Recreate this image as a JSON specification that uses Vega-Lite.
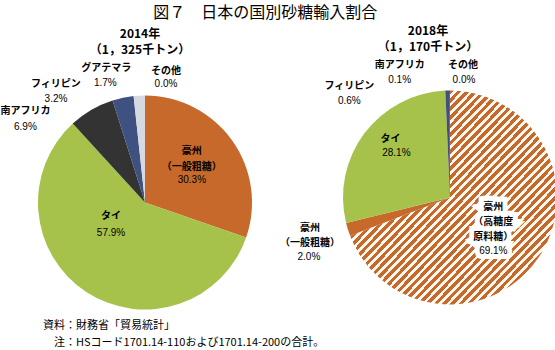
{
  "$schema": "https://vega.github.io/schema/vega-lite/v6.json",
  "padding": {"left": 0, "top": 5, "right": 0, "bottom": 0},
  "spacing": 3,
  "title": {"text": "図７　日本の国別砂糖輸入割合", "fontSize": 16, "fontWeight": "normal", "font": "Noto Sans CJK JP", "anchor": "middle", "dx": -14, "offset": 4, "color": "#000000"},
  "config": {"view": {"stroke": null}, "font": "Noto Sans CJK JP"},
  "datasets": {
    "p2014": [
      {"cat": "豪州（一般粗糖）", "name": "豪州\n（一般粗糖）", "pct": "30.3%", "v": 30.3, "o": 1},
      {"cat": "タイ", "name": "タイ", "pct": "57.9%", "v": 57.9, "o": 2},
      {"cat": "南アフリカ", "name": "南アフリカ", "pct": "6.9%", "v": 6.9, "o": 3},
      {"cat": "フィリピン", "name": "フィリピン", "pct": "3.2%", "v": 3.2, "o": 4},
      {"cat": "グアテマラ", "name": "グアテマラ", "pct": "1.7%", "v": 1.7, "o": 5},
      {"cat": "その他", "name": "その他", "pct": "0.0%", "v": 0, "o": 6}
    ],
    "p2018": [
      {"cat": "豪州（高糖度原料糖）", "name": "豪州\n（高糖度\n原料糖）", "pct": "69.1%", "v": 69.1, "o": 1},
      {"cat": "豪州（一般粗糖）", "name": "豪州\n（一般粗糖）", "pct": "2.0%", "v": 2.0, "o": 2},
      {"cat": "タイ", "name": "タイ", "pct": "28.1%", "v": 28.1, "o": 3},
      {"cat": "フィリピン", "name": "フィリピン", "pct": "0.6%", "v": 0.6, "o": 4},
      {"cat": "南アフリカ", "name": "南アフリカ", "pct": "0.1%", "v": 0.1, "o": 5},
      {"cat": "その他", "name": "その他", "pct": "0.0%", "v": 0, "o": 6}
    ],
    "notes": [
      {"k": 1, "note": "資料：財務省「貿易統計」"},
      {"k": 2, "note": "注：HSコード1701.14-110および1701.14-200の合計。"}
    ]
  },
  "vconcat": [
    {
      "bounds": "flush",
      "spacing": 55,
      "hconcat": [
        {
          "width": 284,
          "height": 223,
          "title": {"text": ["2014年", "（1，325千トン）"], "fontSize": 12, "fontWeight": "bold", "lineHeight": 15.5, "offset": 7, "dx": -5, "dy": 1, "anchor": "middle", "color": "#000000"},
          "data": {"name": "p2014"},
          "encoding": {
            "theta": {"field": "v", "type": "quantitative", "stack": true},
            "order": {"field": "o", "type": "quantitative"}
          },
          "layer": [
            {
              "mark": {"type": "arc", "outerRadius": 107},
              "encoding": {
                "color": {"field": "cat", "type": "nominal", "legend": null,
                  "scale": {"domain": ["豪州（一般粗糖）", "タイ", "南アフリカ", "フィリピン", "グアテマラ", "その他"],
                            "range": ["#c6692b", "#a6c24b", "#333333", "#3f5180", "#d6dae0", "#e8e8e8"]}}
              }
            },
            {
              "mark": {"type": "text", "font": "Noto Sans CJK JP", "fontWeight": "bold", "fontSize": 10, "lineBreak": "\n", "lineHeight": 16, "baseline": "middle", "align": "center", "color": "#000000",
                "radius": {"expr": "[60,40,107,107,107,107][datum.o-1]"},
                "dx": {"expr": "[-2,-12,-66,-67,-33,21][datum.o-1]"},
                "dy": {"expr": "[-17,-20,1,-14,-28,-25][datum.o-1]"}},
              "encoding": {"text": {"field": "name"}, "detail": {"field": "cat"}}
            },
            {
              "mark": {"type": "text", "font": "Liberation Sans", "fontSize": 10, "baseline": "middle", "align": "center", "color": "#000000",
                "radius": {"expr": "[60,40,107,107,107,107][datum.o-1]"},
                "dx": {"expr": "[-2,-12,-66,-67,-34,21][datum.o-1]"},
                "dy": {"expr": "[12,-3,17,1,-13,-12][datum.o-1]"}},
              "encoding": {"text": {"field": "pct"}, "detail": {"field": "cat"}}
            }
          ]
        },
        {
          "width": 216,
          "height": 213,
          "title": {"text": ["2018年", "（1，170千トン）"], "fontSize": 12, "fontWeight": "bold", "lineHeight": 15.5, "offset": 7, "dx": -22, "dy": 1, "anchor": "middle", "color": "#000000"},
          "data": {"name": "p2018"},
          "encoding": {
            "theta": {"field": "v", "type": "quantitative", "stack": true},
            "order": {"field": "o", "type": "quantitative"}
          },
          "layer": [
            {
              "mark": {"type": "arc", "outerRadius": 107},
              "encoding": {
                "color": {"field": "cat", "type": "nominal", "legend": null,
                  "scale": {"domain": ["豪州（高糖度原料糖）", "豪州（一般粗糖）", "タイ", "フィリピン", "南アフリカ", "その他"],
                            "range": ["#e3a46f", "#c6692b", "#a6c24b", "#3f5180", "#333333", "#e8e8e8"]},
                  "condition": {"test": "datum.o === 1", "value": {"gradient": "linear", "x1": 0, "y1": 0, "x2": 1, "y2": 1, "stops": [
{"offset":0,"color":"#c6692b"},{"offset":0.011,"color":"#c6692b"},{"offset":0.011,"color":"#fff8f0"},{"offset":0.02,"color":"#fff8f0"},
{"offset":0.02,"color":"#c6692b"},{"offset":0.031,"color":"#c6692b"},{"offset":0.031,"color":"#fff8f0"},{"offset":0.04,"color":"#fff8f0"},
{"offset":0.04,"color":"#c6692b"},{"offset":0.051,"color":"#c6692b"},{"offset":0.051,"color":"#fff8f0"},{"offset":0.06,"color":"#fff8f0"},
{"offset":0.06,"color":"#c6692b"},{"offset":0.071,"color":"#c6692b"},{"offset":0.071,"color":"#fff8f0"},{"offset":0.08,"color":"#fff8f0"},
{"offset":0.08,"color":"#c6692b"},{"offset":0.091,"color":"#c6692b"},{"offset":0.091,"color":"#fff8f0"},{"offset":0.1,"color":"#fff8f0"},
{"offset":0.1,"color":"#c6692b"},{"offset":0.111,"color":"#c6692b"},{"offset":0.111,"color":"#fff8f0"},{"offset":0.12,"color":"#fff8f0"},
{"offset":0.12,"color":"#c6692b"},{"offset":0.131,"color":"#c6692b"},{"offset":0.131,"color":"#fff8f0"},{"offset":0.14,"color":"#fff8f0"},
{"offset":0.14,"color":"#c6692b"},{"offset":0.151,"color":"#c6692b"},{"offset":0.151,"color":"#fff8f0"},{"offset":0.16,"color":"#fff8f0"},
{"offset":0.16,"color":"#c6692b"},{"offset":0.171,"color":"#c6692b"},{"offset":0.171,"color":"#fff8f0"},{"offset":0.18,"color":"#fff8f0"},
{"offset":0.18,"color":"#c6692b"},{"offset":0.191,"color":"#c6692b"},{"offset":0.191,"color":"#fff8f0"},{"offset":0.2,"color":"#fff8f0"},
{"offset":0.2,"color":"#c6692b"},{"offset":0.211,"color":"#c6692b"},{"offset":0.211,"color":"#fff8f0"},{"offset":0.22,"color":"#fff8f0"},
{"offset":0.22,"color":"#c6692b"},{"offset":0.231,"color":"#c6692b"},{"offset":0.231,"color":"#fff8f0"},{"offset":0.24,"color":"#fff8f0"},
{"offset":0.24,"color":"#c6692b"},{"offset":0.251,"color":"#c6692b"},{"offset":0.251,"color":"#fff8f0"},{"offset":0.26,"color":"#fff8f0"},
{"offset":0.26,"color":"#c6692b"},{"offset":0.271,"color":"#c6692b"},{"offset":0.271,"color":"#fff8f0"},{"offset":0.28,"color":"#fff8f0"},
{"offset":0.28,"color":"#c6692b"},{"offset":0.291,"color":"#c6692b"},{"offset":0.291,"color":"#fff8f0"},{"offset":0.3,"color":"#fff8f0"},
{"offset":0.3,"color":"#c6692b"},{"offset":0.311,"color":"#c6692b"},{"offset":0.311,"color":"#fff8f0"},{"offset":0.32,"color":"#fff8f0"},
{"offset":0.32,"color":"#c6692b"},{"offset":0.331,"color":"#c6692b"},{"offset":0.331,"color":"#fff8f0"},{"offset":0.34,"color":"#fff8f0"},
{"offset":0.34,"color":"#c6692b"},{"offset":0.351,"color":"#c6692b"},{"offset":0.351,"color":"#fff8f0"},{"offset":0.36,"color":"#fff8f0"},
{"offset":0.36,"color":"#c6692b"},{"offset":0.371,"color":"#c6692b"},{"offset":0.371,"color":"#fff8f0"},{"offset":0.38,"color":"#fff8f0"},
{"offset":0.38,"color":"#c6692b"},{"offset":0.391,"color":"#c6692b"},{"offset":0.391,"color":"#fff8f0"},{"offset":0.4,"color":"#fff8f0"},
{"offset":0.4,"color":"#c6692b"},{"offset":0.411,"color":"#c6692b"},{"offset":0.411,"color":"#fff8f0"},{"offset":0.42,"color":"#fff8f0"},
{"offset":0.42,"color":"#c6692b"},{"offset":0.431,"color":"#c6692b"},{"offset":0.431,"color":"#fff8f0"},{"offset":0.44,"color":"#fff8f0"},
{"offset":0.44,"color":"#c6692b"},{"offset":0.451,"color":"#c6692b"},{"offset":0.451,"color":"#fff8f0"},{"offset":0.46,"color":"#fff8f0"},
{"offset":0.46,"color":"#c6692b"},{"offset":0.471,"color":"#c6692b"},{"offset":0.471,"color":"#fff8f0"},{"offset":0.48,"color":"#fff8f0"},
{"offset":0.48,"color":"#c6692b"},{"offset":0.491,"color":"#c6692b"},{"offset":0.491,"color":"#fff8f0"},{"offset":0.5,"color":"#fff8f0"},
{"offset":0.5,"color":"#c6692b"},{"offset":0.511,"color":"#c6692b"},{"offset":0.511,"color":"#fff8f0"},{"offset":0.52,"color":"#fff8f0"},
{"offset":0.52,"color":"#c6692b"},{"offset":0.531,"color":"#c6692b"},{"offset":0.531,"color":"#fff8f0"},{"offset":0.54,"color":"#fff8f0"},
{"offset":0.54,"color":"#c6692b"},{"offset":0.551,"color":"#c6692b"},{"offset":0.551,"color":"#fff8f0"},{"offset":0.56,"color":"#fff8f0"},
{"offset":0.56,"color":"#c6692b"},{"offset":0.571,"color":"#c6692b"},{"offset":0.571,"color":"#fff8f0"},{"offset":0.58,"color":"#fff8f0"},
{"offset":0.58,"color":"#c6692b"},{"offset":0.591,"color":"#c6692b"},{"offset":0.591,"color":"#fff8f0"},{"offset":0.6,"color":"#fff8f0"},
{"offset":0.6,"color":"#c6692b"},{"offset":0.611,"color":"#c6692b"},{"offset":0.611,"color":"#fff8f0"},{"offset":0.62,"color":"#fff8f0"},
{"offset":0.62,"color":"#c6692b"},{"offset":0.631,"color":"#c6692b"},{"offset":0.631,"color":"#fff8f0"},{"offset":0.64,"color":"#fff8f0"},
{"offset":0.64,"color":"#c6692b"},{"offset":0.651,"color":"#c6692b"},{"offset":0.651,"color":"#fff8f0"},{"offset":0.66,"color":"#fff8f0"},
{"offset":0.66,"color":"#c6692b"},{"offset":0.671,"color":"#c6692b"},{"offset":0.671,"color":"#fff8f0"},{"offset":0.68,"color":"#fff8f0"},
{"offset":0.68,"color":"#c6692b"},{"offset":0.691,"color":"#c6692b"},{"offset":0.691,"color":"#fff8f0"},{"offset":0.7,"color":"#fff8f0"},
{"offset":0.7,"color":"#c6692b"},{"offset":0.711,"color":"#c6692b"},{"offset":0.711,"color":"#fff8f0"},{"offset":0.72,"color":"#fff8f0"},
{"offset":0.72,"color":"#c6692b"},{"offset":0.731,"color":"#c6692b"},{"offset":0.731,"color":"#fff8f0"},{"offset":0.74,"color":"#fff8f0"},
{"offset":0.74,"color":"#c6692b"},{"offset":0.751,"color":"#c6692b"},{"offset":0.751,"color":"#fff8f0"},{"offset":0.76,"color":"#fff8f0"},
{"offset":0.76,"color":"#c6692b"},{"offset":0.771,"color":"#c6692b"},{"offset":0.771,"color":"#fff8f0"},{"offset":0.78,"color":"#fff8f0"},
{"offset":0.78,"color":"#c6692b"},{"offset":0.791,"color":"#c6692b"},{"offset":0.791,"color":"#fff8f0"},{"offset":0.8,"color":"#fff8f0"},
{"offset":0.8,"color":"#c6692b"},{"offset":0.811,"color":"#c6692b"},{"offset":0.811,"color":"#fff8f0"},{"offset":0.82,"color":"#fff8f0"},
{"offset":0.82,"color":"#c6692b"},{"offset":0.831,"color":"#c6692b"},{"offset":0.831,"color":"#fff8f0"},{"offset":0.84,"color":"#fff8f0"},
{"offset":0.84,"color":"#c6692b"},{"offset":0.851,"color":"#c6692b"},{"offset":0.851,"color":"#fff8f0"},{"offset":0.86,"color":"#fff8f0"},
{"offset":0.86,"color":"#c6692b"},{"offset":0.871,"color":"#c6692b"},{"offset":0.871,"color":"#fff8f0"},{"offset":0.88,"color":"#fff8f0"},
{"offset":0.88,"color":"#c6692b"},{"offset":0.891,"color":"#c6692b"},{"offset":0.891,"color":"#fff8f0"},{"offset":0.9,"color":"#fff8f0"},
{"offset":0.9,"color":"#c6692b"},{"offset":0.911,"color":"#c6692b"},{"offset":0.911,"color":"#fff8f0"},{"offset":0.92,"color":"#fff8f0"},
{"offset":0.92,"color":"#c6692b"},{"offset":0.931,"color":"#c6692b"},{"offset":0.931,"color":"#fff8f0"},{"offset":0.94,"color":"#fff8f0"},
{"offset":0.94,"color":"#c6692b"},{"offset":0.951,"color":"#c6692b"},{"offset":0.951,"color":"#fff8f0"},{"offset":0.96,"color":"#fff8f0"},
{"offset":0.96,"color":"#c6692b"},{"offset":0.971,"color":"#c6692b"},{"offset":0.971,"color":"#fff8f0"},{"offset":0.98,"color":"#fff8f0"},
{"offset":0.98,"color":"#c6692b"},{"offset":0.991,"color":"#c6692b"},{"offset":0.991,"color":"#fff8f0"},{"offset":1,"color":"#fff8f0"}
                  ]}}
                }
              }
            },
            {
              "mark": {"type": "text", "font": "Noto Sans CJK JP", "fontWeight": "bold", "fontSize": 10, "lineBreak": "\n", "lineHeight": 15, "baseline": "middle", "align": "center", "color": "#ffffff", "stroke": "#ffffff", "strokeWidth": 10, "strokeJoin": "miter",
                "radius": 55, "dx": -2, "dy": -22},
              "encoding": {"text": {"condition": {"test": "datum.o === 1", "field": "name"}, "value": ""}, "detail": {"field": "cat"}}
            },
            {
              "mark": {"type": "text", "font": "Liberation Sans", "fontSize": 10, "baseline": "middle", "align": "center", "color": "#ffffff", "stroke": "#ffffff", "strokeWidth": 10, "strokeJoin": "miter",
                "radius": 55, "dx": -2, "dy": 22},
              "encoding": {"text": {"condition": {"test": "datum.o === 1", "field": "pct"}, "value": ""}, "detail": {"field": "cat"}}
            },
            {
              "mark": {"type": "text", "font": "Noto Sans CJK JP", "fontWeight": "bold", "fontSize": 10, "lineBreak": "\n", "lineHeight": 15, "baseline": "middle", "align": "center", "color": "#000000",
                "radius": {"expr": "[55,107,72,107,107,107][datum.o-1]"},
                "dx": {"expr": "[-2,-38,-2,-98,-50,13][datum.o-1]"},
                "dy": {"expr": "[-22,-1.5,-15,-4.5,-26,-26][datum.o-1]"}},
              "encoding": {"text": {"field": "name"}, "detail": {"field": "cat"}}
            },
            {
              "mark": {"type": "text", "font": "Liberation Sans", "fontSize": 10, "baseline": "middle", "align": "center", "color": "#000000",
                "radius": {"expr": "[55,107,72,107,107,107][datum.o-1]"},
                "dx": {"expr": "[-2,-39,4,-98,-50,14][datum.o-1]"},
                "dy": {"expr": "[22,27.5,-1,10.5,-11,-11][datum.o-1]"}},
              "encoding": {"text": {"field": "pct"}, "detail": {"field": "cat"}}
            }
          ]
        }
      ]
    },
    {
      "width": 80,
      "height": 34,
      "data": {"name": "notes"},
      "mark": {"type": "text", "align": "left", "baseline": "middle", "fontSize": 11, "font": "Noto Sans CJK JP", "color": "#000000",
        "dx": {"expr": "datum.k === 2 ? 11 : 0"}},
      "encoding": {
        "y": {"field": "k", "type": "ordinal", "axis": null},
        "text": {"field": "note"}
      }
    }
  ]
}
